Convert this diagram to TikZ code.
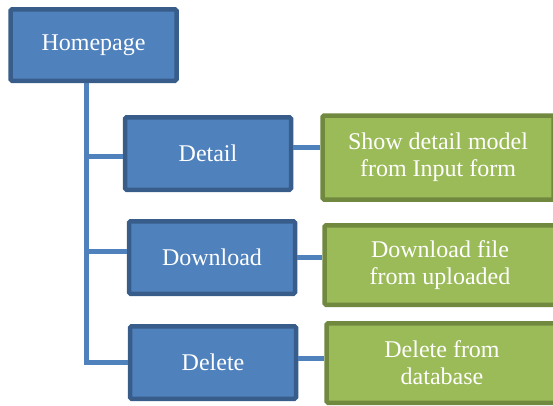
\documentclass[tikz,border=0pt]{standalone}
\usepackage{fontspec}
\setmainfont{Liberation Serif}
\usepackage{xcolor}
\usetikzlibrary{positioning}

\definecolor{pageblue}{HTML}{4F81BD}
\definecolor{pageblueline}{HTML}{385D8A}
\definecolor{infogreen}{HTML}{9BBB59}
\definecolor{infogreenline}{HTML}{71893F}

\begin{document}
\begin{tikzpicture}[x=1pt, y=-1pt,
    page/.style={draw=pageblueline, fill=pageblue, line width=4.5pt, rounded corners=1.5pt, text=white,
        minimum width=166pt, minimum height=72.5pt, inner sep=0pt, align=center,
        font=\fontsize{24}{27}\selectfont},
    info/.style={page, draw=infogreenline, fill=infogreen, minimum width=231pt},
    link/.style={draw=pageblue, line width=5pt}]

    \clip (0,0) rectangle (553,405);

    % pages
    \node[page, minimum height=71.5pt] (home) at (93.5,45) {Homepage};
    \node[page] (detail) at (208,153.5) {Detail};
    \node[page] (download) at (212,257.5) {Download};
    \node[page] (delete) at (213,362.5) {Delete};

    % what each page does
    \node[info, minimum height=84pt] (showinfo) at (438,157.5) {Show detail model\\from Input form};
    \node[info, minimum height=79.5pt] (downinfo) at (440,265) {Download file\\from uploaded};
    \node[info, minimum height=79.5pt] (delinfo) at (442,363) {Delete from\\database};

    % tree
    \coordinate (trunk) at ([xshift=-7.5pt]home.south);
    \draw[link] (trunk) |- (delete.west);
    \draw[link] ([yshift=-2.5pt]detail.west) -- ([yshift=-2.5pt]detail.west -| trunk);
    \draw[link] ([yshift=6.5pt]download.west) -- ([yshift=6.5pt]download.west -| trunk);

    \draw[link] ([yshift=6.5pt]detail.east) -- ([yshift=6.5pt]detail.east -| showinfo.west);
    \draw[link] ([yshift=0.5pt]download.east) -- ([yshift=0.5pt]download.east -| downinfo.west);
    \draw[link] ([yshift=4.5pt]delete.east) -- ([yshift=4.5pt]delete.east -| delinfo.west);
\end{tikzpicture}
\end{document}
